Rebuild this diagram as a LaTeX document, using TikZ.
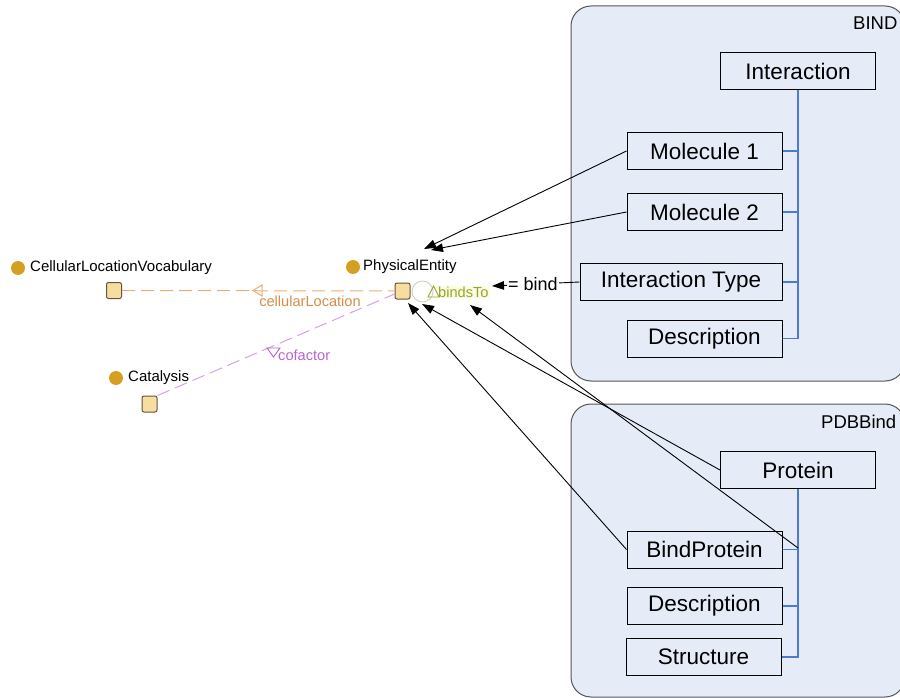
\documentclass[tikz,border=0pt]{standalone}
\usepackage{fontspec}
\setmainfont{Liberation Sans}
\usetikzlibrary{arrows.meta}

\definecolor{panelfill}{RGB}{230,236,247}
\definecolor{panelline}{RGB}{85,85,85}
\definecolor{treeblue}{RGB}{74,123,208}
\definecolor{gold}{RGB}{212,160,36}
\definecolor{sqfill}{RGB}{245,222,160}
\definecolor{sqline}{RGB}{100,85,60}
\definecolor{orangetext}{RGB}{214,140,70}
\definecolor{orangeline}{RGB}{236,172,118}
\definecolor{violettext}{RGB}{184,100,208}
\definecolor{violetline}{RGB}{214,160,226}
\definecolor{olivetext}{RGB}{150,165,40}
\definecolor{ringline}{RGB}{205,205,180}
\definecolor{glow}{RGB}{252,252,228}

\begin{document}
\begin{tikzpicture}[x=1pt,y=-1pt,
  panel/.style={draw=panelline,fill=panelfill,line width=1pt,rounded corners=20pt,inner sep=0pt},
  field/.style={draw=black,fill=panelfill,line width=1pt,minimum width=155pt,minimum height=37pt,
    inner sep=0pt,font=\fontsize{22.5}{27}\selectfont},
  paneltitle/.style={anchor=west,inner sep=0pt,font=\fontsize{18.5}{22}\selectfont},
  tree/.style={draw=treeblue,line width=1.4pt},
  link/.style={draw=black,line width=0.9pt,-{Triangle[length=12pt,width=8.5pt]}},
  cls/.style={draw=sqline,fill=sqfill,line width=1pt,rounded corners=2pt,minimum width=15pt,
    minimum height=16pt,inner sep=0pt},
  dot/.style={circle,fill=gold,minimum size=14pt,inner sep=0pt},
  clsname/.style={anchor=west,inner sep=0pt,font=\fontsize{15}{18}\selectfont},
  propname/.style={inner sep=0pt,font=\fontsize{14.6}{17}\selectfont},
]
\clip (0,0) rectangle (900,698);

% ---------- BIND panel ----------
\node[panel,minimum width=334pt,minimum height=375pt] (bindpanel) at (738,193.5) {};
\node[paneltitle] (bindtitle) at (853,23) {BIND};
\node[field] (interaction) at (798,71.5) {Interaction};
\node[field] (mol1) at (704.5,151) {Molecule 1};
\node[field] (mol2) at (704.5,212) {Molecule 2};
\node[field,minimum width=202pt] (itype) at (681,282) {Interaction Type};
\node[field] (desc1) at (704.5,338.5) {Description};

\draw[tree] (interaction.south) -- (interaction.south |- desc1.east) -- (desc1.east);
\foreach \n in {mol1,mol2,itype}
  \draw[tree] (\n.east) -- (\n.east -| interaction.south);

% ---------- PDBBind panel ----------
\node[panel,minimum width=334pt,minimum height=293pt] (pdbpanel) at (738,550.5) {};
\node[paneltitle] (pdbtitle) at (821,422) {PDBBind};
\node[field] (protein) at (798,470) {Protein};
\node[field] (bindprot) at (704.5,549.5) {BindProtein};
\node[field] (desc2) at (704.5,606) {Description};
\node[field] (structure) at (703.5,657) {Structure};

\draw[tree] (protein.south) -- (protein.south |- structure.east) -- (structure.east);
\foreach \n in {bindprot,desc2}
  \draw[tree] (\n.east) -- (\n.east -| protein.south);
\coordinate (pbjoin) at ([yshift=1.5pt]protein.south |- bindprot.east);

% ---------- ontology classes ----------
\node[dot] (clvdot) at (18,268) {};
\node[clsname] (clvname) at (30,268) {CellularLocationVocabulary};
\node[cls] (clv) at (114,290.5) {};

\node[dot] (catdot) at (116,378) {};
\node[clsname] (catname) at (128,378) {Catalysis};
\node[cls] (cat) at (149.5,404) {};

\node[dot] (pedot) at (353,267) {};
\node[clsname] (pename) at (363,267) {PhysicalEntity};

\node[propname,anchor=west,fill=glow,inner sep=1pt] (bindsto) at (437,292) {\textcolor{olivetext}{bindsTo}};
\node[circle,draw=ringline,fill=white,line width=0.8pt,minimum size=21pt,inner sep=0pt] (pering) at (422.5,291.5) {};
\node[cls] (pe) at (402.5,291) {};
\draw[olivetext,line width=0.9pt] (428,297) -- (439,297) -- (433.5,286) -- cycle;

% object properties
\draw[orangeline,line width=1pt,dash pattern=on 13pt off 6pt] (clv.east) -- (pe.west);
\draw[orangeline,line width=1pt] (262,285) -- (253,290.5) -- (262,296) -- cycle;
\node[propname,text=orangetext] (cellloc) at (310,301.5) {cellularLocation};

\draw[violetline,line width=1pt,dash pattern=on 13pt off 6pt] (cat.north east) -- ([yshift=-3pt]pe.west);
\draw[violettext,line width=0.9pt] (267,348) -- (280,348) -- (273.5,357) -- cycle;
\node[propname,anchor=west,text=violettext] (cofactor) at (278,355) {cofactor};

% ---------- mapping links ----------
\coordinate (tipmolA) at (424,249);
\coordinate (tipmolB) at (431,250);
\coordinate (tipsq) at (408,303);
\coordinate (tipring) at (422,304);
\coordinate (tipbinds) at (470,305);
\coordinate (tipbind) at (492,286);

\draw[link] (mol1.west) -- (tipmolA);
\draw[link] (mol2.west) -- (tipmolB);
\draw[link] (bindprot.west) -- (tipsq);
\draw[link] (protein.west) -- (tipring);
\draw[link] (pbjoin) -- (tipbinds);
\draw[link] (itype.west) -- (tipbind);
\node[fill=white,inner sep=1pt,font=\fontsize{18}{21}\selectfont] (bindlbl) at (533,284) {= bind};

\end{tikzpicture}
\end{document}
